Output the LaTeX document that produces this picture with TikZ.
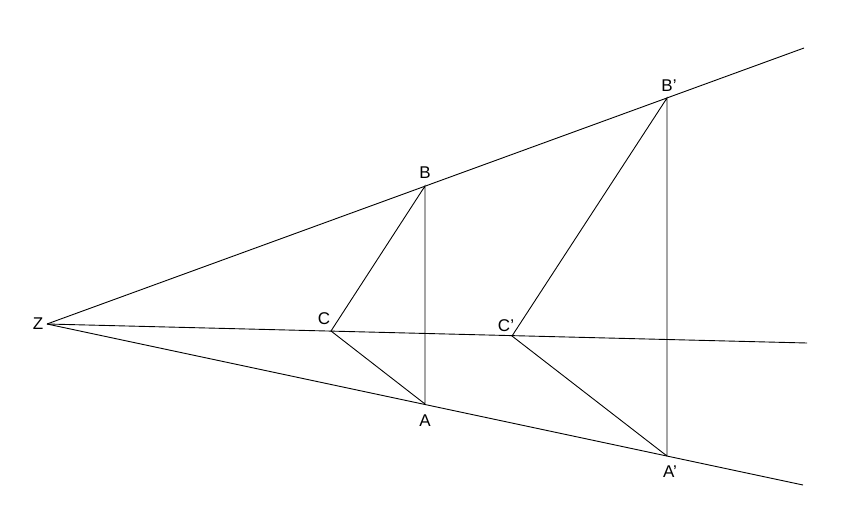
\documentclass[tikz,border=0pt]{standalone}
\usepackage{fontspec}
\setmainfont{Liberation Sans}
\usetikzlibrary{positioning}
\tikzset{
  ray/.style={line width=0.9pt, black},
  side/.style={line width=0.9pt, black},
  ptlabel/.style={draw=none, inner sep=0pt, font=\fontsize{17}{20}\selectfont}
}
\newcommand{\prm}{\char"0027}

\begin{document}
\begin{tikzpicture}[x=1pt, y=-1pt]
\useasboundingbox (0,0) rectangle (866,530);

% centre and ray ends
\coordinate (Z) at (47,324);
\coordinate (topend) at (804,48);
\coordinate (midend) at (807,343);
\coordinate (botend) at (803,485);

% first triangle
\coordinate (B) at (425,186);
\coordinate (A) at (425,404);
\coordinate (C) at (331,331);

% second triangle
\coordinate (B') at (667,98);
\coordinate (A') at (667,456);
\coordinate (C') at (512,336);

% labels
\node[ptlabel] (Zlab) at (38,324) {Z};
\node[ptlabel] (Blab) at (425,173) {B};
\node[ptlabel] (Alab) at (425,421) {A};
\node[ptlabel] (Clab) at (324,319) {C};
\node[ptlabel] (B'lab) at (669,86) {B\prm};
\node[ptlabel] (A'lab) at (670,472) {A\prm};
\node[ptlabel] (C'lab) at (506,326) {C\prm};

% rays
\draw[ray] (Z) -- (topend);
\draw[ray] (Z) -- (midend);
\draw[ray] (Z) -- (botend);

% triangles
\draw[side] (A) -- (B) -- (C) -- (A);
\draw[side] (A') -- (B') -- (C') -- (A');

\end{tikzpicture}
\end{document}
